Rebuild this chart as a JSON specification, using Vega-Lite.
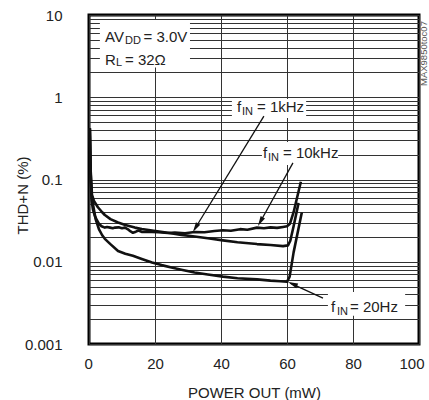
{
  "$schema": "https://vega.github.io/schema/vega-lite/v6.json",
  "width": 330,
  "height": 329,
  "autosize": {"type": "none"},
  "padding": {"left": 89, "top": 15, "right": 10, "bottom": 56},
  "background": "white",
  "config": {
    "view": {"stroke": "black", "strokeWidth": 3},
    "font": "Liberation Sans",
    "axis": {
      "labelFont": "Liberation Sans",
      "labelFontSize": 15,
      "labelColor": "#222",
      "titleFont": "Liberation Sans",
      "titleFontSize": 15,
      "titleFontWeight": "normal",
      "titleColor": "#222",
      "domain": false,
      "ticks": false,
      "gridColor": "#333",
      "gridWidth": 1,
      "gridOpacity": 1
    }
  },
  "encoding": {
    "x": {
      "field": "x",
      "type": "quantitative",
      "scale": {"domain": [0, 100], "nice": false, "zero": false},
      "axis": {
        "values": [0, 20, 40, 60, 80, 100],
        "title": "POWER OUT (mW)",
        "labelPadding": 12,
        "labelFlush": true,
        "labelFlushOffset": 5,
        "titleY": 53,
        "titleBaseline": "alphabetic"
      }
    },
    "y": {
      "field": "y",
      "type": "quantitative",
      "scale": {"type": "log", "domain": [0.001, 10], "nice": false},
      "axis": {
        "values": [0.001, 0.002, 0.003, 0.004, 0.005, 0.006, 0.007, 0.008, 0.009, 0.01, 0.02, 0.03, 0.04, 0.05, 0.06, 0.07, 0.08, 0.09, 0.1, 0.2, 0.3, 0.4, 0.5, 0.6, 0.7, 0.8, 0.9, 1, 2, 3, 4, 5, 6, 7, 8, 9, 10],
        "labelExpr": "datum.value == 10 ? '10' : datum.value == 1 ? '1' : datum.value == 0.1 ? '0.1' : datum.value == 0.01 ? '0.01' : datum.value == 0.001 ? '0.001' : ''",
        "labelOverlap": false,
        "title": "THD+N (%)",
        "labelPadding": 27,
        "titleX": -62,
        "titleY": 180,
        "titleAngle": 270,
        "titleAlign": "center",
        "titleBaseline": "alphabetic"
      }
    }
  },
  "layer": [
    {
      "data": {"values": [
        {"x": 3.3, "x2": 30.6, "y": 8.7, "y2": 2.3},
        {"x": 43.3, "x2": 65.8, "y": 0.95, "y2": 0.56},
        {"x": 52.4, "x2": 75.5, "y": 0.286, "y2": 0.15},
        {"x": 72.4, "x2": 95.8, "y": 0.0043, "y2": 0.0022}
      ]},
      "mark": {"type": "rect", "fill": "white"},
      "encoding": {
        "x2": {"field": "x2"},
        "y2": {"field": "y2"}
      }
    },
    {
      "data": {"values": [
        {"s": "1kHz", "x": 0.25, "y": 0.42}, {"s": "1kHz", "x": 0.5, "y": 0.13}, {"s": "1kHz", "x": 0.9, "y": 0.065}, {"s": "1kHz", "x": 1.5, "y": 0.055}, {"s": "1kHz", "x": 2.7, "y": 0.046}, {"s": "1kHz", "x": 4, "y": 0.04}, {"s": "1kHz", "x": 4.8, "y": 0.037}, {"s": "1kHz", "x": 6.5, "y": 0.033}, {"s": "1kHz", "x": 8.8, "y": 0.03}, {"s": "1kHz", "x": 11, "y": 0.028}, {"s": "1kHz", "x": 13.9, "y": 0.026}, {"s": "1kHz", "x": 16, "y": 0.025}, {"s": "1kHz", "x": 19.1, "y": 0.024}, {"s": "1kHz", "x": 23.9, "y": 0.0225}, {"s": "1kHz", "x": 28, "y": 0.0212}, {"s": "1kHz", "x": 32, "y": 0.0203}, {"s": "1kHz", "x": 36, "y": 0.0193}, {"s": "1kHz", "x": 40.6, "y": 0.0182}, {"s": "1kHz", "x": 45, "y": 0.0173}, {"s": "1kHz", "x": 50.9, "y": 0.0164}, {"s": "1kHz", "x": 55, "y": 0.016}, {"s": "1kHz", "x": 58.8, "y": 0.0155}, {"s": "1kHz", "x": 60.3, "y": 0.0158}, {"s": "1kHz", "x": 61, "y": 0.018}, {"s": "1kHz", "x": 62, "y": 0.027}, {"s": "1kHz", "x": 63.5, "y": 0.052},
        {"s": "10kHz", "x": 0.25, "y": 0.42}, {"s": "10kHz", "x": 0.5, "y": 0.1}, {"s": "10kHz", "x": 0.8, "y": 0.055}, {"s": "10kHz", "x": 1.2, "y": 0.043}, {"s": "10kHz", "x": 1.8, "y": 0.036}, {"s": "10kHz", "x": 2.4, "y": 0.032}, {"s": "10kHz", "x": 3, "y": 0.029}, {"s": "10kHz", "x": 3.8, "y": 0.027}, {"s": "10kHz", "x": 4.8, "y": 0.026}, {"s": "10kHz", "x": 5.5, "y": 0.0265}, {"s": "10kHz", "x": 6.4, "y": 0.026}, {"s": "10kHz", "x": 7.2, "y": 0.0255}, {"s": "10kHz", "x": 7.9, "y": 0.026}, {"s": "10kHz", "x": 9, "y": 0.0262}, {"s": "10kHz", "x": 10, "y": 0.0255}, {"s": "10kHz", "x": 10.9, "y": 0.026}, {"s": "10kHz", "x": 11.8, "y": 0.0248}, {"s": "10kHz", "x": 12.5, "y": 0.0235}, {"s": "10kHz", "x": 13.3, "y": 0.0225}, {"s": "10kHz", "x": 14.2, "y": 0.0232}, {"s": "10kHz", "x": 15, "y": 0.024}, {"s": "10kHz", "x": 16.1, "y": 0.023}, {"s": "10kHz", "x": 17.5, "y": 0.0232}, {"s": "10kHz", "x": 19.1, "y": 0.023}, {"s": "10kHz", "x": 21, "y": 0.0228}, {"s": "10kHz", "x": 23.9, "y": 0.0224}, {"s": "10kHz", "x": 26, "y": 0.0226}, {"s": "10kHz", "x": 29.1, "y": 0.0222}, {"s": "10kHz", "x": 32, "y": 0.023}, {"s": "10kHz", "x": 35, "y": 0.0228}, {"s": "10kHz", "x": 38, "y": 0.0236}, {"s": "10kHz", "x": 40.6, "y": 0.0242}, {"s": "10kHz", "x": 43, "y": 0.0238}, {"s": "10kHz", "x": 45.8, "y": 0.0249}, {"s": "10kHz", "x": 48, "y": 0.0245}, {"s": "10kHz", "x": 50.9, "y": 0.026}, {"s": "10kHz", "x": 53, "y": 0.0256}, {"s": "10kHz", "x": 55, "y": 0.0262}, {"s": "10kHz", "x": 57, "y": 0.0258}, {"s": "10kHz", "x": 58.8, "y": 0.0265}, {"s": "10kHz", "x": 60, "y": 0.027}, {"s": "10kHz", "x": 60.9, "y": 0.029}, {"s": "10kHz", "x": 62, "y": 0.04}, {"s": "10kHz", "x": 64.2, "y": 0.094},
        {"s": "20Hz", "x": 0.25, "y": 0.42}, {"s": "20Hz", "x": 0.5, "y": 0.12}, {"s": "20Hz", "x": 0.8, "y": 0.065}, {"s": "20Hz", "x": 1.2, "y": 0.05}, {"s": "20Hz", "x": 2, "y": 0.033}, {"s": "20Hz", "x": 3, "y": 0.025}, {"s": "20Hz", "x": 4, "y": 0.021}, {"s": "20Hz", "x": 4.8, "y": 0.019}, {"s": "20Hz", "x": 6.4, "y": 0.0165}, {"s": "20Hz", "x": 8.8, "y": 0.0135}, {"s": "20Hz", "x": 11, "y": 0.0125}, {"s": "20Hz", "x": 13.3, "y": 0.0118}, {"s": "20Hz", "x": 16, "y": 0.0108}, {"s": "20Hz", "x": 19.1, "y": 0.0098}, {"s": "20Hz", "x": 22, "y": 0.0091}, {"s": "20Hz", "x": 25, "y": 0.0085}, {"s": "20Hz", "x": 28, "y": 0.008}, {"s": "20Hz", "x": 32, "y": 0.0074}, {"s": "20Hz", "x": 36, "y": 0.007}, {"s": "20Hz", "x": 40.6, "y": 0.0066}, {"s": "20Hz", "x": 45, "y": 0.0063}, {"s": "20Hz", "x": 50.9, "y": 0.0061}, {"s": "20Hz", "x": 55, "y": 0.0059}, {"s": "20Hz", "x": 58, "y": 0.0058}, {"s": "20Hz", "x": 60, "y": 0.0057}, {"s": "20Hz", "x": 60.8, "y": 0.0066}, {"s": "20Hz", "x": 62, "y": 0.013}, {"s": "20Hz", "x": 64.5, "y": 0.04}
      ]},
      "mark": {"type": "line", "color": "#111", "strokeWidth": 2.6, "strokeJoin": "round"},
      "encoding": {
        "detail": {"field": "s"},
        "order": {"field": "x", "type": "quantitative"}
      }
    },
    {
      "data": {"values": [
        {"id": "a1", "x": 53.0, "y": 0.59}, {"id": "a1", "x": 31.9, "y": 0.0245},
        {"id": "a2", "x": 61.8, "y": 0.159}, {"id": "a2", "x": 51.6, "y": 0.029},
        {"id": "a3", "x": 70.9, "y": 0.00362}, {"id": "a3", "x": 61.0, "y": 0.0055}
      ]},
      "mark": {"type": "line", "color": "#111", "strokeWidth": 1.3},
      "encoding": {"detail": {"field": "id"}}
    },
    {
      "data": {"values": [{"x": 31.5, "y": 0.023}]},
      "mark": {"type": "point", "shape": "M0,0 L0.5,2 L-0.5,2 Z", "filled": true, "color": "#111", "opacity": 1, "size": 100, "angle": 211}
    },
    {
      "data": {"values": [{"x": 51.2, "y": 0.0272}]},
      "mark": {"type": "point", "shape": "M0,0 L0.5,2 L-0.5,2 Z", "filled": true, "color": "#111", "opacity": 1, "size": 100, "angle": 209}
    },
    {
      "data": {"values": [{"x": 60.3, "y": 0.00567}]},
      "mark": {"type": "point", "shape": "M0,0 L0.5,2 L-0.5,2 Z", "filled": true, "color": "#111", "opacity": 1, "size": 100, "angle": 293}
    },
    {
      "data": {"values": [
        {"x": 4.85, "y": 4.66, "t": "AV"},
        {"x": 16.5, "y": 4.66, "t": "= 3.0V"},
        {"x": 4.85, "y": 2.5, "t": "R"},
        {"x": 10.91, "y": 2.5, "t": "= 32Ω"},
        {"x": 44.85, "y": 0.662, "t": "f"},
        {"x": 50.91, "y": 0.662, "t": "= 1kHz"},
        {"x": 52.73, "y": 0.181, "t": "f"},
        {"x": 58.79, "y": 0.181, "t": "= 10kHz"},
        {"x": 73.33, "y": 0.00245, "t": "f"},
        {"x": 79.09, "y": 0.00245, "t": "= 20Hz"}
      ]},
      "mark": {"type": "text", "align": "left", "baseline": "alphabetic", "font": "Liberation Sans", "fontSize": 15, "color": "#222"},
      "encoding": {"text": {"field": "t"}}
    },
    {
      "data": {"values": [
        {"x": 10.91, "y": 4.38, "t": "DD"},
        {"x": 8.18, "y": 2.37, "t": "L"},
        {"x": 46.36, "y": 0.608, "t": "IN"},
        {"x": 54.24, "y": 0.168, "t": "IN"},
        {"x": 75.15, "y": 0.00225, "t": "IN"}
      ]},
      "mark": {"type": "text", "align": "left", "baseline": "alphabetic", "font": "Liberation Sans", "fontSize": 11, "color": "#222"},
      "encoding": {"text": {"field": "t"}}
    },
    {
      "data": {"values": [{"x": 101.6, "y": 3.4, "t": "MAX9850toc07"}]},
      "mark": {"type": "text", "align": "center", "baseline": "middle", "angle": 270, "font": "Liberation Sans", "fontSize": 9.5, "color": "#555"},
      "encoding": {"text": {"field": "t"}}
    }
  ]
}
